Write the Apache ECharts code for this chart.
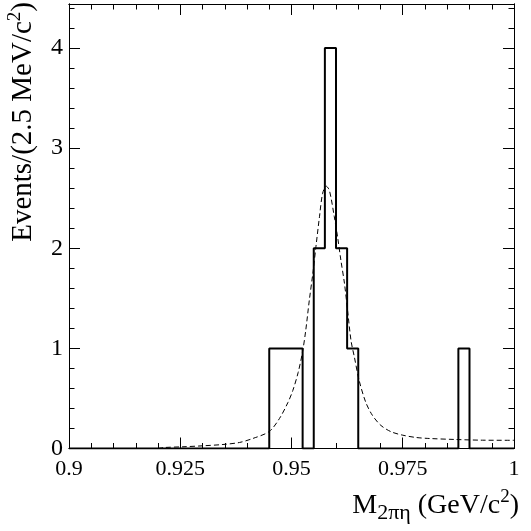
<!DOCTYPE html>
<html>
<head>
<meta charset="utf-8">
<title>M 2pi eta</title>
<style>
  html, body { margin: 0; height: 100%; background: #fff; }
  #container { width: 531px; height: 531px; }
</style>
</head>
<body>
<div id="container"></div>
<script src="https://cdn.jsdelivr.net/npm/echarts@6/dist/echarts.min.js"></script>
<script>
// histogram, 40 bins of 2.5 MeV from 0.9 to 1.0 GeV
var binStart = 0.9;
var binWidth = 0.0025;
var counts = [0, 0, 0, 0, 0, 0, 0, 0, 0, 0,
              0, 0, 0, 0, 0, 0, 0, 0, 1, 1,
              1, 0, 2, 4, 2, 1, 0, 0, 0, 0,
              0, 0, 0, 0, 0, 1, 0, 0, 0, 0];

// dashed fit curve
var fitX = [0.920, 0.9215, 0.9256, 0.9301, 0.9346, 0.9383, 0.9413, 0.9450, 0.9473, 0.9492,
            0.9503, 0.9515, 0.9525, 0.9532, 0.9540, 0.9548, 0.9555, 0.9563, 0.9570, 0.9578,
            0.9585, 0.9596, 0.9604, 0.9611, 0.9619, 0.9626, 0.9634, 0.9641, 0.9652, 0.9667,
            0.9682, 0.9701, 0.9724, 0.9750, 0.9780, 0.9810, 0.9869, 0.9929, 1.0000];
var fitY = [0.00, 0.01, 0.017, 0.027, 0.04, 0.06, 0.10, 0.17, 0.30, 0.46,
            0.58, 0.76, 0.97, 1.18, 1.48, 1.75, 2.02, 2.32, 2.55, 2.62,
            2.58, 2.32, 2.10, 1.88, 1.65, 1.38, 1.07, 0.92, 0.68, 0.46,
            0.33, 0.23, 0.167, 0.133, 0.11, 0.10, 0.09, 0.083, 0.082];

var xTickValues = [0.9, 0.925, 0.95, 0.975, 1];
var xTickLabels = ['0.9', '0.925', '0.95', '0.975', '1'];
var yTickValues = [0, 1, 2, 3, 4];
var yTickLabels = ['0', '1', '2', '3', '4'];

var FONT = '"Liberation Serif", "DejaVu Serif", serif';

function pickLabel(values, labels, v) {
  for (var i = 0; i < values.length; i++) {
    if (Math.abs(values[i] - v) < 1e-6) return labels[i];
  }
  return '';
}

var histPts = [];
for (var i = 0; i < counts.length; i++) {
  var lo = binStart + i * binWidth;
  histPts.push([lo, counts[i]]);
  histPts.push([lo + binWidth, counts[i]]);
}
var fitPts = fitX.map(function (x, k) { return [x, fitY[k]]; });

var dom = document.getElementById('container');
var myChart = echarts.init(dom, null, { renderer: 'canvas' });

var black = { color: '#000', width: 1 };

function xAx(pos, major) {
  return {
    type: 'value', position: pos, min: 0.9, max: 1.0,
    interval: major ? 0.025 : 0.005,
    axisLine: { show: true, onZero: false, lineStyle: black },
    axisTick: { show: true, inside: true, length: major ? 11 : 5.5, lineStyle: black },
    axisLabel: {
      show: major && pos === 'bottom', margin: 10,
      fontFamily: FONT, fontSize: 22, color: '#000',
      showMinLabel: true, showMaxLabel: true,
      formatter: function (v) { return pickLabel(xTickValues, xTickLabels, v); }
    },
    splitLine: { show: false }
  };
}
function yAx(pos, major) {
  return {
    type: 'value', position: pos, min: 0, max: 4.44,
    interval: major ? 1 : 0.2,
    axisLine: { show: true, onZero: false, lineStyle: black },
    axisTick: { show: true, inside: true, length: major ? 11 : 5.5, lineStyle: black },
    axisLabel: {
      show: major && pos === 'left', margin: 6,
      fontFamily: FONT, fontSize: 24, color: '#000',
      formatter: function (v) { return pickLabel(yTickValues, yTickLabels, v); }
    },
    splitLine: { show: false }
  };
}

var option = {
  animation: false,
  backgroundColor: '#fff',
  grid: { left: 69, right: 17, top: 4, bottom: 82.5 },
  xAxis: [xAx('bottom', true), xAx('bottom', false), xAx('top', true), xAx('top', false)],
  yAxis: [yAx('left', true), yAx('left', false), yAx('right', true), yAx('right', false)],
  series: [
    {
      name: 'data', type: 'line', data: histPts,
      xAxisIndex: 0, yAxisIndex: 0,
      symbol: 'none', lineStyle: { color: '#000', width: 2 }
    },
    {
      name: 'fit', type: 'line', data: fitPts,
      xAxisIndex: 0, yAxisIndex: 0,
      smooth: 0.3, symbol: 'none',
      lineStyle: { color: '#000', width: 1, type: [5, 3] }
    }
  ],
  graphic: [
    {
      type: 'text', x: 23, y: 2, rotation: Math.PI / 2,
      style: {
        text: '{m|Events/(2.5 MeV/c}{sup|2}{m|)}',
        align: 'right', verticalAlign: 'middle', fill: '#000',
        rich: {
          m: { fontFamily: FONT, fontSize: 29, lineHeight: 34, fill: '#000' },
          sup: { fontFamily: FONT, fontSize: 19, lineHeight: 19, verticalAlign: 'top', fill: '#000' }
        }
      }
    },
    {
      type: 'text', x: 519, y: 506,
      style: {
        text: '{m|M}{sub|2πη}{m| (GeV/c}{sup|2}{m|)}',
        align: 'right', verticalAlign: 'middle', fill: '#000',
        rich: {
          m: { fontFamily: FONT, fontSize: 28, lineHeight: 36, fill: '#000' },
          sub: { fontFamily: FONT, fontSize: 22, lineHeight: 22, verticalAlign: 'bottom', fill: '#000' },
          sup: { fontFamily: FONT, fontSize: 19, lineHeight: 19, verticalAlign: 'top', fill: '#000' }
        }
      }
    }
  ]
};

if (option && typeof option === 'object') {
  myChart.setOption(option);
}
</script>
</body>
</html>
